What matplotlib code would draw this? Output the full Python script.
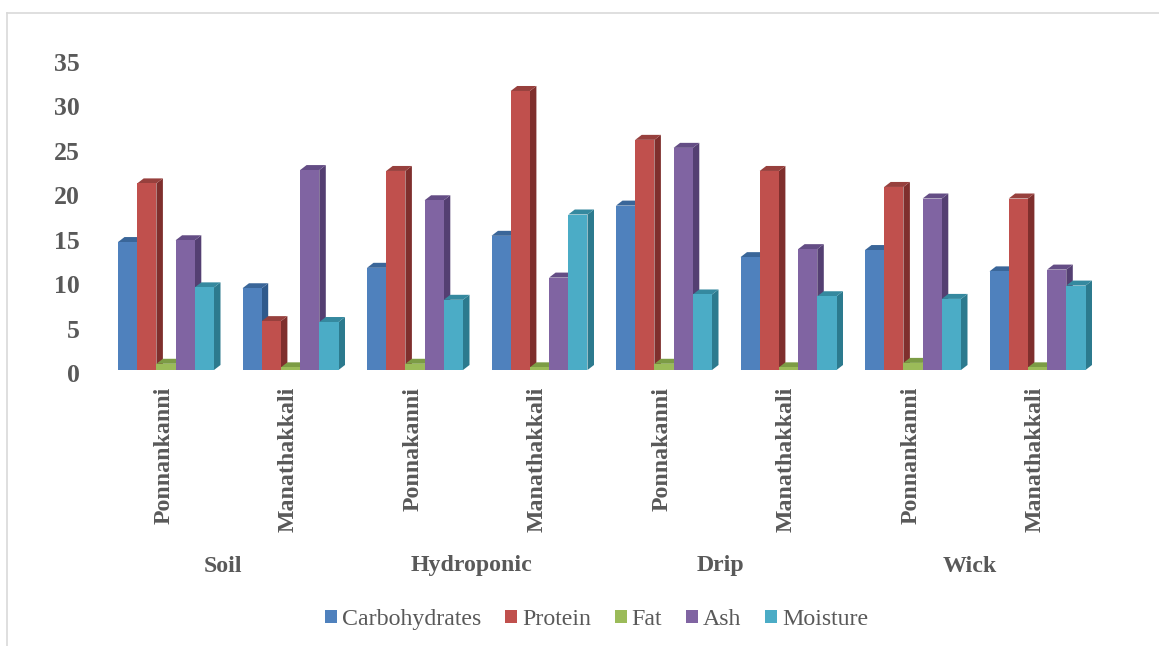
#!/usr/bin/env python3
# 3D looking grouped bars, drawn by hand because bar3d does not give this flat look
import matplotlib
matplotlib.use('Agg')
import matplotlib.pyplot as plt
from matplotlib.patches import Patch, Polygon
from matplotlib.transforms import ScaledTranslation

plt.rcParams['font.family'] = ['Liberation Serif', 'DejaVu Serif']

# data
varieties = ['Ponnankanni', 'Manathakkali', 'Ponnakanni', 'Manathakkali',
             'Ponnakanni', 'Manathakkali', 'Ponnankanni', 'Manathakkali']
systems = ['Soil', 'Hydroponic', 'Drip', 'Wick']
series_names = ['Carbohydrates', 'Protein', 'Fat', 'Ash', 'Moisture']
carbohydrates = [14.4, 9.2, 11.5, 15.1, 18.5, 12.7, 13.5, 11.1]
protein = [21.0, 5.5, 22.4, 31.4, 25.9, 22.4, 20.6, 19.3]
fat = [0.7, 0.3, 0.7, 0.3, 0.7, 0.3, 0.8, 0.3]
ash = [14.6, 22.5, 19.1, 10.4, 25.0, 13.6, 19.3, 11.3]
moisture = [9.3, 5.4, 7.9, 17.5, 8.5, 8.3, 8.0, 9.5]
y_ticks = [0, 5, 10, 15, 20, 25, 30, 35]

series = [carbohydrates, protein, fat, ash, moisture]
front_colors = ['#4F81BD', '#C0504D', '#9BBB59', '#8064A2', '#4BACC6']
side_colors = ['#2F5A8C', '#7F2F2D', '#6B8A35', '#543F72', '#2C7A8E']
top_colors = ['#3A6699', '#97403D', '#7C9C45', '#644D85', '#35899F']
TEXT_GREY = '#595959'

W, H = 1159, 646
fig = plt.figure(figsize=(W / 100, H / 100), dpi=100)

# axes box in pixels: x 103.75-1099.75, y 59-370
ax = fig.add_axes([103.75 / W, (H - 370) / H, 996 / W, 311 / H])
ax.set_xlim(-0.5, 7.5)
ax.set_ylim(0, 35)
ax.patch.set_visible(False)
for spine in ax.spines.values():
    spine.set_visible(False)

bar_w = 19.2 / 124.5
depth_x = 6.5 / 124.5
depth_y = 5 / 8.886

# left to right so each front face covers the side of the bar before it
for g in range(len(varieties)):
    for s in range(len(series)):
        left = g + (s - 2.5) * bar_w
        right = left + bar_w
        v = series[s][g]
        ax.add_patch(Polygon(
            [[right, 0], [right + depth_x, depth_y],
             [right + depth_x, v + depth_y], [right, v]],
            facecolor=side_colors[s], edgecolor='none', clip_on=False))
        ax.add_patch(Polygon(
            [[left, v], [left + depth_x, v + depth_y],
             [right + depth_x, v + depth_y], [right, v]],
            facecolor=top_colors[s], edgecolor='none', clip_on=False))
        ax.bar(left, v, width=bar_w, align='edge', color=front_colors[s],
               linewidth=0, clip_on=False)

# tick labels sit a little off the front plane
ax.tick_params(length=0)
ax.set_yticks(y_ticks)
ax.set_yticklabels([str(t) for t in y_ticks], fontsize=18.5, fontweight='bold',
                   color=TEXT_GREY)
ax.tick_params(axis='y', pad=17)
y_shift = ScaledTranslation(0, -3 / 100, fig.dpi_scale_trans)
for lab in ax.get_yticklabels():
    lab.set_transform(lab.get_transform() + y_shift)

ax.set_xticks(range(len(varieties)))
ax.set_xticklabels(varieties, rotation=90, fontsize=17.2, fontweight='bold',
                   color=TEXT_GREY, va='top', ha='center')
ax.tick_params(axis='x', pad=12)
x_shift = ScaledTranslation(-2 / 100, 0, fig.dpi_scale_trans)
for lab in ax.get_xticklabels():
    lab.set_transform(lab.get_transform() + x_shift)

# system names under each pair of bars
for i, name in enumerate(systems):
    ax.annotate(name, xy=(2 * i + 0.5, 0), xycoords=('data', 'axes fraction'),
                xytext=(-4, -196 * 72 / 100), textcoords='offset points',
                ha='center', va='center', fontsize=17.2, fontweight='bold',
                color=TEXT_GREY)

handles = [Patch(facecolor=c, edgecolor='none') for c in front_colors]
fig.legend(handles, series_names, loc='center', bbox_to_anchor=(596.5 / W, (H - 619.5) / H),
           ncol=5, frameon=False, fontsize=17.2, labelcolor=TEXT_GREY,
           handlelength=0.5, handleheight=0.5, handletextpad=0.21,
           columnspacing=1.0, borderpad=0)

# chart frame, runs off the right and bottom of the picture
fig.add_artist(plt.Line2D([6.5 / W, 6.5 / W], [0, (H - 12.5) / H], color='#D9D9D9', lw=1.2))
fig.add_artist(plt.Line2D([6.5 / W, 1], [(H - 12.5) / H, (H - 12.5) / H], color='#D9D9D9', lw=1.2))

fig.savefig('out.png', dpi=100)
